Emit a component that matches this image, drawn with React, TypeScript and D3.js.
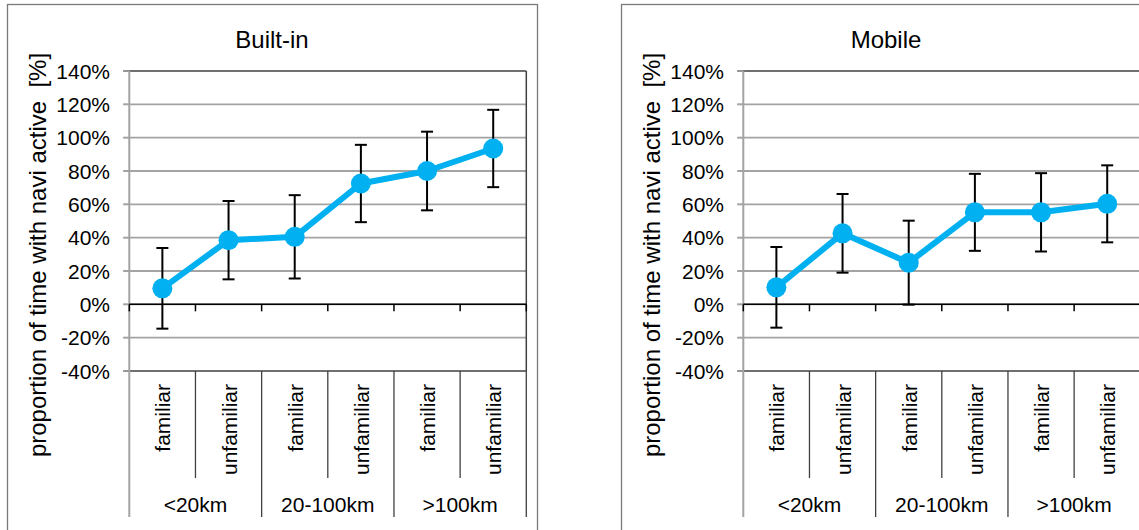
import React from "react";
import * as d3 from "d3";

const categories = ["familiar", "unfamiliar", "familiar", "unfamiliar", "familiar", "unfamiliar"];
const groups = ["<20km", "20-100km", ">100km"];
const yTicks = [-40, -20, 0, 20, 40, 60, 80, 100, 120, 140];
const panelTitles = ["Built-in", "Mobile"];
const yAxisTitle = "proportion of time with navi active  [%]";

const builtInMeans = [9.6, 38.5, 40.5, 72.5, 80, 93.5];
const builtInErrors = [24.2, 23.5, 25, 23.2, 23.6, 23.2];
const mobileMeans = [10.2, 42.6, 25, 55.2, 55.2, 60.3];
const mobileErrors = [24.2, 23.6, 25.2, 23.1, 23.5, 23.1];

const FONT = "'Liberation Sans', Arial, sans-serif";
const BLUE = "#00B0F0";
const GRID = "#a3a3a3";
const DARK = "#404040";

function Panel({ dx, title, means, errors }: { dx: number; title: string; means: number[]; errors: number[] }) {
  const x0 = 129.3 + dx;
  const x1 = 526.3 + dx;
  const y = d3.scaleLinear().domain([-40, 140]).range([371, 71]);
  const x = d3.scaleBand<number>().domain(d3.range(categories.length)).range([x0, x1]).padding(0);
  const bw = x.bandwidth();
  const cx = (i: number) => (x(i) as number) + bw / 2;
  const line = d3
    .line<number>()
    .x((_, i) => cx(i))
    .y((d) => y(d));
  const panelCenter = 272 + dx;
  const bounds = d3.range(categories.length + 1).map((i) => x0 + i * bw);
  const perGroup = categories.length / groups.length;

  return (
    <g>
      <rect x={7.5 + dx} y={4.5} width={530} height={560} fill="#fff" stroke="#7a7a7a" strokeWidth={1.3} />
      <text x={panelCenter} y={48} textAnchor="middle" fontSize={24} fontFamily={FONT} fill="#000">
        {title}
      </text>
      <text
        transform={`translate(${46.4 + dx},255) rotate(-90)`}
        textAnchor="middle"
        fontSize={24}
        fontFamily={FONT}
        fill="#000"
        style={{ whiteSpace: "pre" }}
      >
        {yAxisTitle}
      </text>
      {/* gridlines */}
      {yTicks.map((t) => (
        <line
          key={"g" + t}
          x1={x0 - 6}
          x2={x1}
          y1={y(t)}
          y2={y(t)}
          stroke={t === 140 || t === -40 ? DARK : GRID}
          strokeWidth={t === 140 || t === -40 ? 1.5 : 1.8}
        />
      ))}
      {yTicks.map((t) => (
        <line key={"tk" + t} x1={x0 - 6} x2={x0} y1={y(t)} y2={y(t)} stroke={GRID} strokeWidth={1.5} />
      ))}
      {/* tick labels */}
      {yTicks.map((t) => (
        <text key={"tl" + t} x={110 + dx} y={y(t) + 7.5} textAnchor="end" fontSize={21} fontFamily={FONT} fill="#000">
          {t + "%"}
        </text>
      ))}
      {/* right edge */}
      <line x1={x1} x2={x1} y1={y(140)} y2={y(-40)} stroke={DARK} strokeWidth={1.5} />
      {/* left axis */}
      <line x1={x0} x2={x0} y1={y(140)} y2={517} stroke={GRID} strokeWidth={2} />
      {/* zero line with ticks */}
      <line x1={x0} x2={x1} y1={y(0)} y2={y(0)} stroke="#000" strokeWidth={1.5} />
      {bounds.map((b, i) => (
        <line key={"zt" + i} x1={b} x2={b} y1={y(0)} y2={y(0) + 7} stroke="#000" strokeWidth={1.5} />
      ))}
      {/* category separators below */}
      {bounds.slice(1).map((b, k) => {
        const i = k + 1;
        const isGroup = i % perGroup === 0;
        return (
          <line
            key={"sep" + i}
            x1={b}
            x2={b}
            y1={y(-40)}
            y2={isGroup ? 517 : 478}
            stroke={DARK}
            strokeWidth={1.3}
          />
        );
      })}
      {/* category labels */}
      {categories.map((c, i) => (
        <text
          key={"c" + i}
          transform={`translate(${cx(i) + 8},384) rotate(-90)`}
          textAnchor="end"
          fontSize={21}
          fontFamily={FONT}
          fill="#000"
        >
          {c}
        </text>
      ))}
      {groups.map((g, gi) => (
        <text
          key={"gr" + gi}
          x={x0 + (gi + 0.5) * perGroup * bw}
          y={512}
          textAnchor="middle"
          fontSize={21}
          fontFamily={FONT}
          fill="#000"
        >
          {g}
        </text>
      ))}
      {/* error bars */}
      {means.map((m, i) => (
        <g key={"e" + i} stroke="#000" strokeWidth={2}>
          <line x1={cx(i)} x2={cx(i)} y1={y(m + errors[i])} y2={y(m - errors[i])} />
          <line x1={cx(i) - 6} x2={cx(i) + 6} y1={y(m + errors[i])} y2={y(m + errors[i])} />
          <line x1={cx(i) - 6} x2={cx(i) + 6} y1={y(m - errors[i])} y2={y(m - errors[i])} />
        </g>
      ))}
      <path d={line(means) || ""} fill="none" stroke={BLUE} strokeWidth={6} strokeLinejoin="round" />
      {means.map((m, i) => (
        <circle key={"p" + i} cx={cx(i)} cy={y(m)} r={10} fill={BLUE} />
      ))}
    </g>
  );
}

export default function App() {
  return (
    <svg
      width={1139}
      height={530}
      style={{ position: "absolute", left: 0, top: 0, display: "block", background: "#fff" }}
    >
      <rect x={0} y={0} width={1139} height={530} fill="#fff" />
      <Panel dx={0} title={panelTitles[0]} means={builtInMeans} errors={builtInErrors} />
      <Panel dx={614} title={panelTitles[1]} means={mobileMeans} errors={mobileErrors} />
    </svg>
  );
}
